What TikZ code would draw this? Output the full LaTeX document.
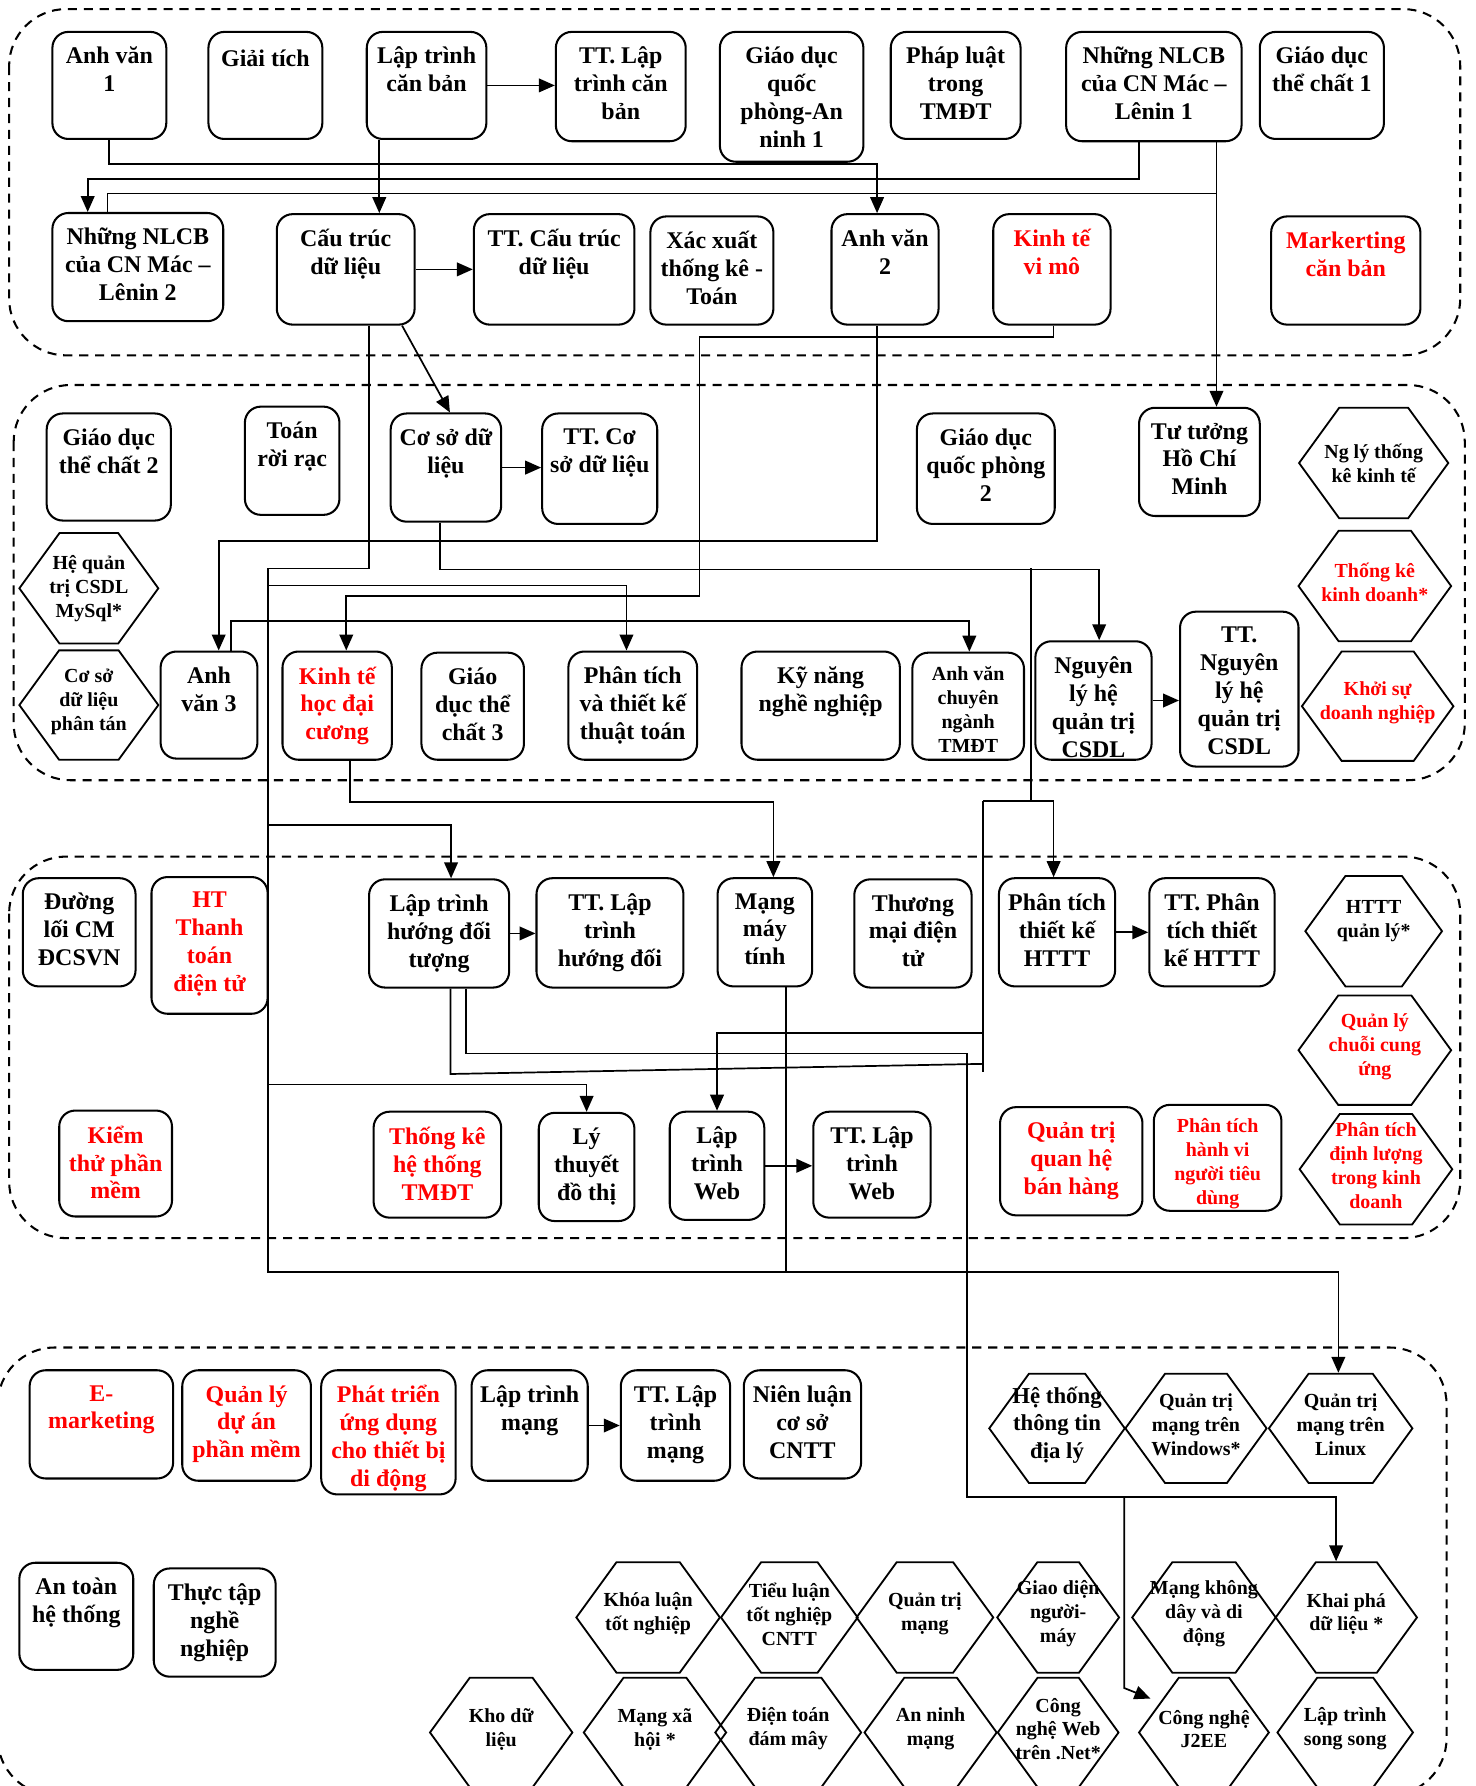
\documentclass[tikz,border=0pt]{standalone}
\usepackage{fontspec}
\setmainfont{Liberation Serif}
\usetikzlibrary{arrows.meta,shapes.symbols}

\begin{document}
\begin{tikzpicture}[x=1pt,y=-1pt,
  box/.style={draw,line width=1.8pt,rounded corners=14pt,inner sep=0pt},
  txt/.style={anchor=north,yshift=-12pt,align=center,inner sep=2pt,font=\bfseries\fontsize{21}{24.5}\selectfont,execute at begin node=\strut},
  stxt/.style={txt,yshift=1pt,font=\bfseries\fontsize{17.5}{21}\selectfont},
  hex/.style={draw,line width=1.6pt,signal,signal to=east and west,signal pointer angle=108,inner sep=0pt},
  htxt/.style={anchor=center,yshift=3pt,align=center,inner sep=1pt,font=\bfseries\fontsize{17.5}{21}\selectfont},
  wire/.style={line width=1.5pt},
  arr/.style={wire,-{Triangle[length=14pt,width=12pt]}},
  band/.style={line width=1.8pt,dash pattern=on 8pt off 6pt,rounded corners=50pt}]

\useasboundingbox (0,0) rectangle (1295,1568);

% hoc ky bands
\draw[band] (8,8) rectangle (1282,312);
\draw[band] (12,338) rectangle (1286,685);
\draw[band] (8,752) rectangle (1282,1087);
\draw[band] (-2,1183) rectangle (1270,1576);

% band 1
\node[box,minimum width=100pt,minimum height=94pt,label={[txt]north:{Anh văn\\1}}] (anhvan1) at (96,75) {};
\node[box,minimum width=100pt,minimum height=94pt,label={[txt]north:{Giải tích}}] (giaitich) at (233,75) {};
\node[box,minimum width=105pt,minimum height=94pt,label={[txt]north:{Lập trình\\căn bản}}] (laptrinhcb) at (374.5,75) {};
\node[box,minimum width=114pt,minimum height=96pt,label={[txt]north:{TT. Lập\\trình căn\\bản}}] (ttlaptrinhcb) at (545,76) {};
\node[box,minimum width=126pt,minimum height=114pt,label={[txt]north:{Giáo dục\\quốc\\phòng-An\\ninh 1}}] (gdqp1) at (695,85) {};
\node[box,minimum width=114pt,minimum height=94pt,label={[txt]north:{Pháp luật\\trong\\TMĐT}}] (phapluat) at (839,75) {};
\node[box,minimum width=154pt,minimum height=96pt,label={[txt]north:{Những NLCB\\của CN Mác –\\Lênin 1}}] (nlcb1) at (1013,76) {};
\node[box,minimum width=109pt,minimum height=94pt,label={[txt]north:{Giáo dục\\thể chất 1}}] (gdtc1) at (1160.5,75) {};

\node[box,minimum width=150pt,minimum height=95pt,label={[txt]north:{Những NLCB\\của CN Mác –\\Lênin 2}}] (nlcb2) at (121,234.5) {};
\node[box,minimum width=121pt,minimum height=97pt,label={[txt]north:{Cấu trúc\\dữ liệu}}] (ctdl) at (303.5,236.5) {};
\node[box,minimum width=141pt,minimum height=97pt,label={[txt]north:{TT. Cấu trúc\\dữ liệu}}] (ttctdl) at (486.5,236.5) {};
\node[box,minimum width=108pt,minimum height=95pt,label={[txt]north:{Xác xuất\\thống kê -\\Toán}}] (xacxuat) at (625,237.5) {};
\node[box,minimum width=94pt,minimum height=97pt,label={[txt]north:{Anh văn\\2}}] (anhvan2) at (777,236.5) {};
\node[box,minimum width=103pt,minimum height=97pt,label={[txt,red]north:{Kinh tế\\vi mô}}] (ktvimo) at (923.5,236.5) {};
\node[box,minimum width=131pt,minimum height=95pt,label={[txt,red]north:{Markerting\\căn bản}}] (marketing) at (1181.5,237.5) {};

% band 2
\node[box,minimum width=109pt,minimum height=94pt,label={[txt]north:{Giáo dục\\thể chất 2}}] (gdtc2) at (95.5,410) {};
\node[box,minimum width=83pt,minimum height=95pt,label={[txt]north:{Toán\\rời rạc}}] (toanrr) at (256.5,404.5) {};
\node[box,minimum width=97pt,minimum height=95pt,label={[txt]north:{Cơ sở dữ\\liệu}}] (csdl) at (391.5,410.5) {};
\node[box,minimum width=101pt,minimum height=97pt,label={[txt]north:{TT. Cơ\\sở dữ liệu}}] (ttcsdl) at (526.5,411.5) {};
\node[box,minimum width=121pt,minimum height=97pt,label={[txt]north:{Giáo dục\\quốc phòng\\2}}] (gdqp2) at (865.5,411.5) {};
\node[box,minimum width=106pt,minimum height=95pt,label={[txt]north:{Tư tưởng\\Hồ Chí\\Minh}}] (tthcm) at (1053,405.5) {};
\node[hex,minimum width=131pt,minimum height=97pt,label={[htxt,yshift=-3pt]center:{Ng lý thống\\kê kinh tế}}] (nglytk) at (1206,406.5) {};
\node[hex,minimum width=122pt,minimum height=97pt,label={[htxt,yshift=-3pt]center:{Hệ quản\\trị CSDL\\MySql*}}] (mysql) at (78,516.5) {};
\node[hex,minimum width=122pt,minimum height=96pt,label={[htxt]center:{Cơ sở\\dữ liệu\\phân tán}}] (csdlpt) at (78,619) {};
\node[hex,minimum width=134pt,minimum height=97pt,label={[htxt,red]center:{Thống kê\\kinh doanh*}}] (tkkd) at (1207,514.5) {};
\node[hex,minimum width=133pt,minimum height=96pt,label={[htxt,red]center:{Khởi sự\\doanh nghiệp}}] (khoisu) at (1209.5,620) {};

\node[box,minimum width=85pt,minimum height=94pt,label={[txt]north:{Anh\\văn 3}}] (anhvan3) at (183.5,619) {};
\node[box,minimum width=96pt,minimum height=95pt,label={[txt,red]north:{Kinh tế\\học đại\\cương}}] (ktdc) at (296,619.5) {};
\node[box,minimum width=90pt,minimum height=94pt,label={[txt]north:{Giáo\\dục thể\\chất 3}}] (gdtc3) at (415,620) {};
\node[box,minimum width=113pt,minimum height=95pt,label={[txt]north:{Phân tích\\và thiết kế\\thuật toán}}] (pttktt) at (555.5,619.5) {};
\node[box,minimum width=139pt,minimum height=95pt,label={[txt]north:{Kỹ năng\\nghề nghiệp}}] (kynang) at (720.5,619.5) {};
\node[box,minimum width=98pt,minimum height=94pt,label={[stxt]north:{Anh văn\\chuyên\\ngành\\TMĐT}}] (avcn) at (850,620) {};
\node[box,minimum width=102pt,minimum height=104pt,label={[txt]north:{Nguyên\\lý hệ\\quản trị\\CSDL}}] (nlhqt) at (960,615) {};
\node[box,minimum width=104pt,minimum height=136pt,label={[txt]north:{TT.\\Nguyên\\lý hệ\\quản trị\\CSDL}}] (ttnlhqt) at (1088,605) {};

% band 3
\node[box,minimum width=99pt,minimum height=95pt,label={[txt]north:{Đường\\lối CM\\ĐCSVN}}] (duongloi) at (69.5,818.5) {};
\node[box,minimum width=102pt,minimum height=120pt,label={[txt,red]north:{HT\\Thanh\\toán\\điện tử}}] (htthanhtoan) at (184,830) {};
\node[box,minimum width=123pt,minimum height=95pt,label={[txt]north:{Lập trình\\hướng đối\\tượng}}] (lthdt) at (385.5,819.5) {};
\node[box,minimum width=129pt,minimum height=96pt,label={[txt]north:{TT. Lập\\trình\\hướng đối}}] (ttlthdt) at (535.5,819) {};
\node[box,minimum width=83pt,minimum height=95pt,label={[txt]north:{Mạng\\máy\\tính}}] (mmt) at (671.5,818.5) {};
\node[box,minimum width=103pt,minimum height=95pt,label={[txt]north:{Thương\\mại điện\\tử}}] (tmdt) at (801.5,819.5) {};
\node[box,minimum width=102pt,minimum height=95pt,label={[txt]north:{Phân tích\\thiết kế\\HTTT}}] (pttkhttt) at (928,818.5) {};
\node[box,minimum width=110pt,minimum height=95pt,label={[txt]north:{TT. Phân\\tích thiết\\kế HTTT}}] (ttpttkhttt) at (1064,818.5) {};
\node[hex,minimum width=120pt,minimum height=97pt,label={[htxt,yshift=6pt]center:{HTTT\\quản lý*}}] (htttql) at (1206,817.5) {};
\node[hex,minimum width=134pt,minimum height=96pt,label={[htxt,red]center:{Quản lý\\chuỗi cung\\ứng}}] (qlccu) at (1207,922) {};
\node[hex,minimum width=134pt,minimum height=97pt,label={[htxt,red]center:{Phân tích\\định lượng\\trong kinh\\doanh}}] (ptdl) at (1208,1026.5) {};

\node[box,minimum width=99pt,minimum height=93pt,label={[txt,red]north:{Kiểm\\thử phần\\mềm}}] (kiemthu) at (101.5,1021.5) {};
\node[box,minimum width=112pt,minimum height=93pt,label={[txt,red]north:{Thống kê\\hệ thống\\TMĐT}}] (tkhttmdt) at (384,1022.5) {};
\node[box,minimum width=84pt,minimum height=95pt,label={[txt]north:{Lý\\thuyết\\đồ thị}}] (ltdt) at (515,1024.5) {};
\node[box,minimum width=83pt,minimum height=95pt,label={[txt]north:{Lập\\trình\\Web}}] (ltweb) at (629.5,1023.5) {};
\node[box,minimum width=103pt,minimum height=93pt,label={[txt]north:{TT. Lập\\trình\\Web}}] (ttltweb) at (765.5,1022.5) {};
\node[box,minimum width=125pt,minimum height=95pt,label={[txt,red]north:{Quản trị\\quan hệ\\bán hàng}}] (qtqhbh) at (940.5,1019.5) {};
\node[box,minimum width=112pt,minimum height=93pt,label={[stxt,red]north:{Phân tích\\hành vi\\người tiêu\\dùng}}] (pthvntd) at (1069,1016.5) {};

% band 4
\node[box,minimum width=126pt,minimum height=95pt,label={[txt,red]north:{E-\\marketing}}] (emarketing) at (89,1250.5) {};
\node[box,minimum width=113pt,minimum height=97pt,label={[txt,red]north:{Quản lý\\dự án\\phần mềm}}] (qlda) at (216.5,1251.5) {};
\node[box,minimum width=118pt,minimum height=109pt,label={[txt,red]north:{Phát triển\\ứng dụng\\cho thiết bị\\di động}}] (ptud) at (341,1257.5) {};
\node[box,minimum width=102pt,minimum height=97pt,label={[txt]north:{Lập trình\\mạng}}] (ltmang) at (465,1251.5) {};
\node[box,minimum width=96pt,minimum height=97pt,label={[txt]north:{TT. Lập\\trình\\mạng}}] (ttltmang) at (593,1251.5) {};
\node[box,minimum width=103pt,minimum height=95pt,label={[txt]north:{Niên luận\\cơ sở\\CNTT}}] (nienluan) at (704.5,1250.5) {};
\node[hex,minimum width=119pt,minimum height=96pt,label={[htxt,font=\bfseries\fontsize{20}{24}\selectfont]center:{Hệ thống\\thông tin\\địa lý}}] (gis) at (928,1254) {};
\node[hex,minimum width=124pt,minimum height=96pt,label={[htxt]center:{Quản trị\\mạng trên\\Windows*}}] (qtwin) at (1050,1254) {};
\node[hex,minimum width=126pt,minimum height=96pt,label={[htxt]center:{Quản trị\\mạng trên\\Linux}}] (qtlinux) at (1177,1254) {};

\node[box,minimum width=100pt,minimum height=94pt,label={[txt]north:{An toàn\\hệ thống}}] (antoan) at (67,1419) {};
\node[box,minimum width=107pt,minimum height=95pt,label={[txt]north:{Thực tập\\nghề\\nghiệp}}] (thuctap) at (188.5,1424.5) {};

\node[hex,minimum width=126pt,minimum height=97pt,label={[htxt]center:{Khóa luận\\tốt nghiệp}}] (khoaluan) at (569,1420) {};
\node[hex,minimum width=120pt,minimum height=97pt,label={[htxt]center:{Tiểu luận\\tốt nghiệp\\CNTT}}] (tieuluan) at (693,1420) {};
\node[hex,minimum width=120pt,minimum height=97pt,label={[htxt]center:{Quản trị\\mạng}}] (qtmang) at (812,1420) {};
\node[hex,minimum width=107pt,minimum height=97pt,label={[htxt]center:{Giao diện\\người-\\máy}}] (giaodien) at (929,1420) {};
\node[hex,minimum width=126pt,minimum height=97pt,label={[htxt]center:{Mạng không\\dây và di\\động}}] (mangkd) at (1057,1420) {};
\node[hex,minimum width=124pt,minimum height=97pt,label={[htxt]center:{Khai phá\\dữ liệu *}}] (khaipha) at (1182,1420) {};

\node[hex,minimum width=125pt,minimum height=96pt,label={[htxt]center:{Kho dữ\\liệu}}] (khodl) at (440,1521) {};
\node[hex,minimum width=125pt,minimum height=96pt,label={[htxt]center:{Mạng xã\\hội *}}] (mangxh) at (575,1521) {};
\node[hex,minimum width=128pt,minimum height=96pt,label={[htxt]center:{Điện toán\\đám mây}}] (dientoan) at (692,1521) {};
\node[hex,minimum width=116pt,minimum height=96pt,label={[htxt]center:{An ninh\\mạng}}] (anninh) at (817,1521) {};
\node[hex,minimum width=106pt,minimum height=96pt,label={[htxt]center:{Công\\nghệ Web\\trên .Net*}}] (dotnet) at (929,1521) {};
\node[hex,minimum width=114pt,minimum height=96pt,label={[htxt]center:{Công nghệ\\J2EE}}] (j2ee) at (1057,1521) {};
\node[hex,minimum width=119pt,minimum height=96pt,label={[htxt]center:{Lập trình\\song song}}] (songsong) at (1181,1521) {};

% connectors, band 1
\draw[arr] (laptrinhcb.east) -- (laptrinhcb.east -| ttlaptrinhcb.west);
\draw[arr] (anhvan1.south) -- ++(0,21) -| ([xshift=-7pt]anhvan2.north);
\draw[arr] ([xshift=-41.5pt]laptrinhcb.south) -- ([xshift=29.5pt]ctdl.north);
\draw[arr] ([xshift=-13pt]nlcb1.south) -- ++(0,32) -| ([xshift=-44pt]nlcb2.north);
\draw[arr] ([xshift=55pt]nlcb1.south) -- ([xshift=15pt]tthcm.north);
\draw[wire] ([xshift=-26.5pt]nlcb2.north) |- ([xshift=55pt,yshift=-45pt]nlcb1.south);
\draw[arr] (ctdl.east) -- (ttctdl.west);
\draw[arr] ([xshift=49.5pt]ctdl.south) -- ([xshift=3.5pt]csdl.north);

% cau truc du lieu
\coordinate (ctdlbus) at (235,499);
\draw[wire] ([xshift=20.5pt]ctdl.south) |- (ctdlbus);
\draw[arr] (ctdlbus) -- ++(0,618) -| ([xshift=-2pt]qtlinux.north);
\draw[arr] (ctdlbus |- 0,514) -| ([xshift=-5.5pt]pttktt.north);
\draw[arr] (ctdlbus |- 0,724) -| ([xshift=10.5pt]lthdt.north);
\draw[arr] (ctdlbus |- 0,952) -| (ltdt.north);

% anh van, kinh te
\draw[arr] ([xshift=-7pt]anhvan2.south) -- ++(0,189) -| ([xshift=8.5pt]anhvan3.north);
\draw[arr] ([xshift=19.5pt]anhvan3.north) -- ++(0,-26) -| ([xshift=1pt]avcn.north);
\draw[arr] ([xshift=1.5pt]ktvimo.south) |- (614,296) |- (304,523) -- ([xshift=8pt]ktdc.north);
\draw[arr] ([xshift=11pt]ktdc.south) -- ++(0,36) -| ([xshift=7.5pt]mmt.north);

% co so du lieu
\draw[arr] (csdl.east) -- (csdl.east -| ttcsdl.west);
\draw[arr] ([xshift=-5.5pt]csdl.south) -- ++(0,41) -| ([xshift=5pt]nlhqt.north);
\coordinate (csdlbus) at (905,499);
\coordinate (htttbus) at (863,703);
\draw[wire] (csdlbus) -- (csdlbus |- htttbus);
\draw[arr] (htttbus) -| ([xshift=-3pt]pttkhttt.north);
\draw[wire] (htttbus) -- ++(0,238);
\draw[arr] (htttbus |- 0,907) -| (ltweb.north);
\draw[arr] (nlhqt.east) -- (nlhqt.east -| ttnlhqt.west);

% huong doi tuong
\draw[arr] (lthdt.east) -- (lthdt.east -| ttlthdt.west);
\draw[wire] ([xshift=10pt]lthdt.south) -- ++(0,75) -- (863,934);
\coordinate (ltbus) at (849,1314);
\draw[arr] ([xshift=23.5pt]lthdt.south) |- (849,925) -- (ltbus) -| ([xshift=-9pt]khaipha.north);
\draw[arr] (ltbus -| 987,0) -- ++(0,168) -- ([xshift=-47pt,yshift=-19pt]j2ee.north);
\draw[arr] (pttkhttt.east) -- (ttpttkhttt.west);
\draw[wire] ([xshift=18.5pt]mmt.south) -- ++(0,251);
\draw[arr] (ltweb.east) -- (ltweb.east -| ttltweb.west);
\draw[arr] (ltmang.east) -- (ltmang.east -| ttltmang.west);

\end{tikzpicture}
\end{document}
